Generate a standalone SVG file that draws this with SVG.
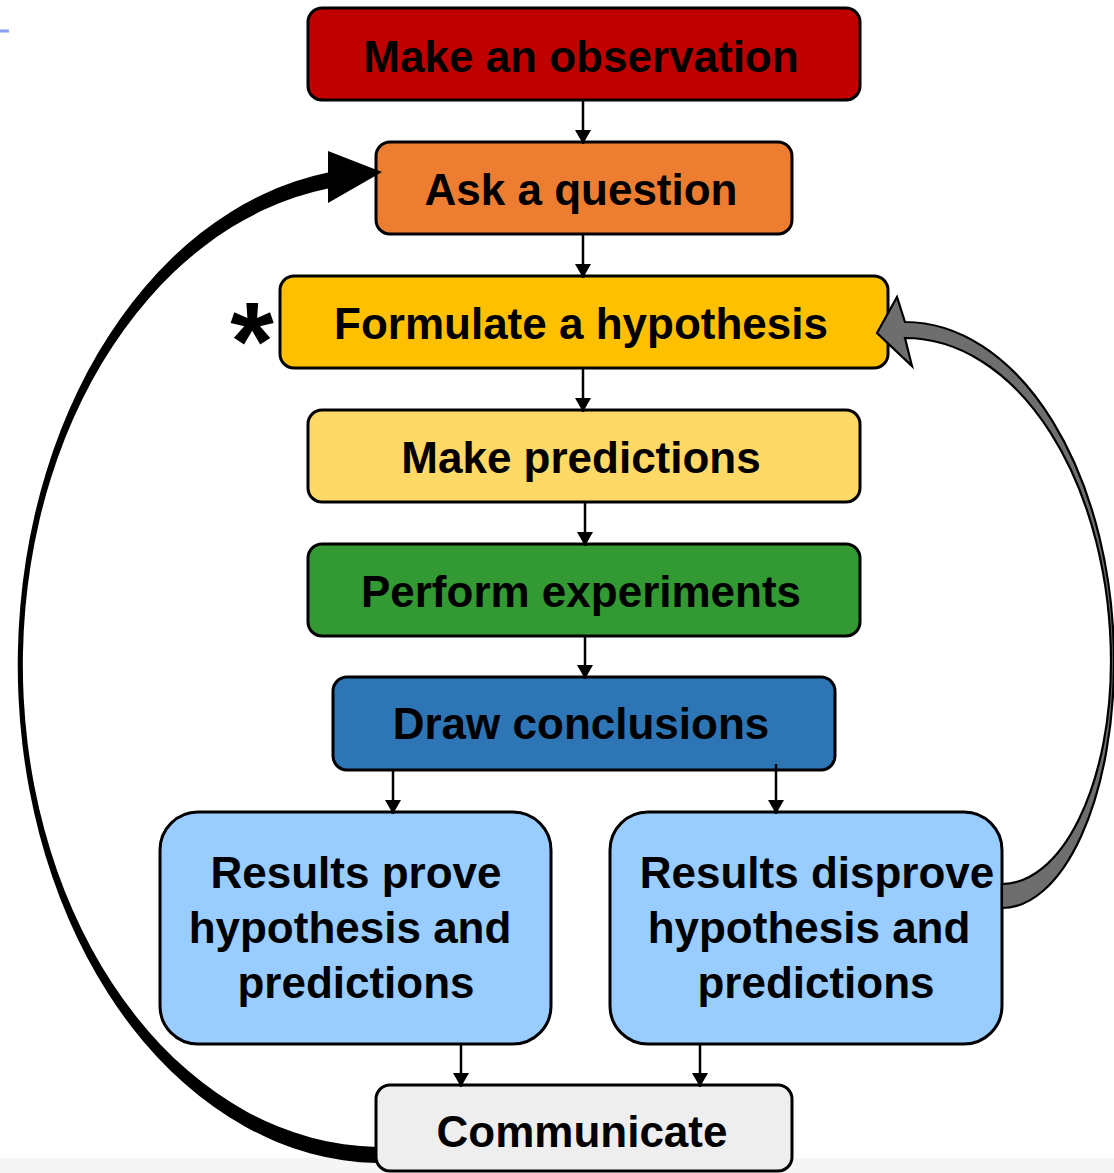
<svg xmlns="http://www.w3.org/2000/svg" width="1114" height="1173" viewBox="0 0 1114 1173">
  <style>
    .box { stroke: #000; stroke-width: 3; }
    .lbl { font-family: "Liberation Sans", Arial, sans-serif; font-weight: bold; font-size: 44px; fill: #000; text-anchor: middle; }
    .link { stroke: #000; stroke-width: 2.5; fill: none; marker-end: url(#ah); }
  </style>
  <defs>
    <marker id="ah" markerWidth="16" markerHeight="16" refX="14" refY="8" orient="auto" markerUnits="userSpaceOnUse">
      <path d="M0,0 L14,8 L0,16 Z" fill="#000"/>
    </marker>
  </defs>

  <rect width="1114" height="1173" fill="#fff"/>
  <rect x="0" y="1158" width="1114" height="15" fill="#f5f5f5"/>
  <line x1="0" y1="31" x2="9" y2="31" stroke="#86a2f0" stroke-width="3"/>

  <g id="observation">
    <rect class="box" x="308" y="8" width="552" height="92" rx="14" fill="#c00000"/>
    <text class="lbl" x="581" y="72">Make an observation</text>
  </g>
  <g id="question">
    <rect class="box" x="376" y="142" width="416" height="92" rx="14" fill="#ed7d31"/>
    <text class="lbl" x="581" y="205">Ask a question</text>
  </g>
  <g id="hypothesis">
    <rect class="box" x="280" y="276" width="608" height="92" rx="14" fill="#ffc000"/>
    <text class="lbl" x="581" y="339">Formulate a hypothesis</text>
    <text x="252" y="380" style="font-family:'Liberation Sans',Arial,sans-serif;font-weight:bold;font-size:112px;text-anchor:middle;fill:#000">*</text>
  </g>
  <g id="predictions">
    <rect class="box" x="308" y="410" width="552" height="92" rx="14" fill="#ffd966"/>
    <text class="lbl" x="581" y="473">Make predictions</text>
  </g>
  <g id="experiments">
    <rect class="box" x="308" y="544" width="552" height="92" rx="14" fill="#339933"/>
    <text class="lbl" x="581" y="607">Perform experiments</text>
  </g>
  <g id="conclusions">
    <rect class="box" x="333" y="677" width="502" height="93" rx="14" fill="#2e75b6"/>
    <text class="lbl" x="581" y="739">Draw conclusions</text>
  </g>
  <g id="prove">
    <rect class="box" x="160" y="812" width="391" height="232" rx="38" fill="#99ccff"/>
    <text class="lbl" x="356" y="888">Results prove</text>
    <text class="lbl" x="350" y="943">hypothesis and</text>
    <text class="lbl" x="356" y="998">predictions</text>
  </g>
  <g id="disprove">
    <rect class="box" x="610" y="812" width="392" height="232" rx="38" fill="#99ccff"/>
    <text class="lbl" x="817" y="888">Results disprove</text>
    <text class="lbl" x="809" y="943">hypothesis and</text>
    <text class="lbl" x="816" y="998">predictions</text>
  </g>
  <g id="communicate">
    <rect class="box" x="376" y="1085" width="416" height="86" rx="14" fill="#eeeeee"/>
    <text class="lbl" x="582" y="1147">Communicate</text>
  </g>

  <g id="connectors">
    <line class="link" x1="583" y1="100" x2="583" y2="144"/>
    <line class="link" x1="583" y1="234" x2="583" y2="278"/>
    <line class="link" x1="583" y1="368" x2="583" y2="412"/>
    <line class="link" x1="585" y1="502" x2="585" y2="546"/>
    <line class="link" x1="585" y1="636" x2="585" y2="679"/>
    <line class="link" x1="393" y1="770" x2="393" y2="814"/>
    <line class="link" x1="776" y1="764" x2="776" y2="814"/>
    <line class="link" x1="461" y1="1044" x2="461" y2="1087"/>
    <line class="link" x1="700" y1="1044" x2="700" y2="1087"/>

    <!-- loop back from Communicate to Ask a question: tapered black band with head -->
    <path fill="#000" d="M382 172 L328 151 L328 172.5 A364 498 0 0 0 377 1163 L377 1147 A359 482 0 0 1 328 188.5 L328 203 Z"/>

    <!-- loop back from disproved results to the hypothesis: grey band with notched head -->
    <path fill="#6e6e6e" stroke="#000" stroke-width="2.2" stroke-linejoin="miter"
          d="M877 333 L897 297 L905 322 A209 340 0 0 1 1114 662 A112 246 0 0 1 1002 908 L1002 884 A109 222 0 0 0 1111 662 A206 324 0 0 0 905 338 L912 366 Z"/>
  </g>
</svg>
